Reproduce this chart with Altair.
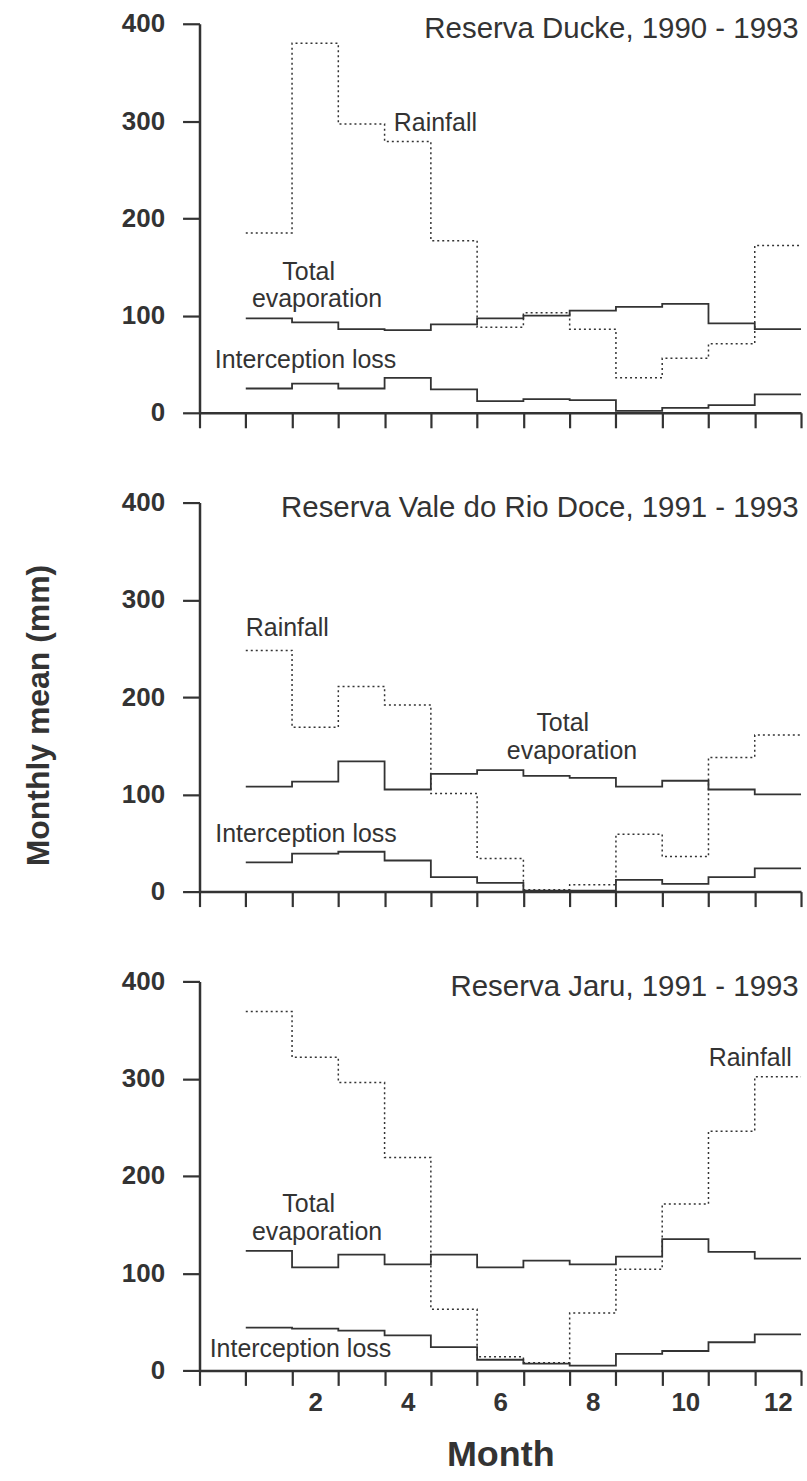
import altair as alt
import pandas as pd

months = list(range(1, 13))

# Reserva Ducke, 1990 - 1993 (monthly means, mm)
ducke_rain = [185, 380, 297, 279, 177, 88, 103, 86, 36, 56, 71, 172]
ducke_et = [97, 93, 86, 85, 91, 97, 100, 105, 109, 112, 92, 86]
ducke_il = [25, 30, 25, 36, 24, 12, 14, 13, 2, 5, 8, 19]

# Reserva Vale do Rio Doce, 1991 - 1993
vrd_rain = [248, 169, 211, 192, 101, 34, 2, 7, 59, 36, 138, 161]
vrd_et = [108, 113, 134, 105, 121, 125, 119, 117, 108, 114, 105, 100]
vrd_il = [30, 39, 41, 32, 15, 9, 1, 1, 12, 8, 15, 24]

# Reserva Jaru, 1991 - 1993
jaru_rain = [369, 322, 296, 219, 63, 14, 8, 59, 104, 171, 246, 302]
jaru_et = [123, 106, 119, 109, 119, 106, 113, 109, 117, 135, 122, 115]
jaru_il = [44, 43, 41, 36, 24, 11, 7, 5, 17, 20, 29, 37]

# in-plot labels: (text, month position, mm position, alignment)
ducke_notes = [
    ("Rainfall", 3.7, 290, "left"),
    ("Total", 1.86, 137, "center"),
    ("evaporation", 2.04, 109, "center"),
    ("Interception loss", -0.17, 46, "left"),
]
vrd_notes = [
    ("Rainfall", 0.5, 263, "left"),
    ("Total", 7.35, 165, "center"),
    ("evaporation", 7.55, 136, "center"),
    ("Interception loss", -0.16, 51, "left"),
]
jaru_notes = [
    ("Rainfall", 12.3, 313, "right"),
    ("Total", 1.86, 163, "center"),
    ("evaporation", 2.04, 134, "center"),
    ("Interception loss", -0.28, 14, "left"),
]

PANEL_W, PANEL_H = 603, 390
INK = "#333333"
FONT = "Liberation Sans"

tick_positions = [m - 0.5 for m in range(0, 14)]
label_positions = [2, 4, 6, 8, 10, 12]
x_values = sorted(tick_positions + label_positions)


def step_frame(values, series):
    # each month is drawn as a flat segment from m-0.5 to m+0.5
    xs = [m - 0.5 for m in months] + [12.5]
    ys = list(values) + [values[-1]]
    return pd.DataFrame({"month": xs, "mm": ys, "series": series})


def x_enc(bottom):
    axis_kw = dict(
        values=x_values,
        domainColor=INK,
        domainWidth=2.5,
        tickColor=INK,
        tickWidth=2.2,
        tickSize=15,
        tickOpacity={"condition": {"test": "datum.value % 1 === 0", "value": 0}, "value": 1},
        grid=False,
        labelFlush=False,
        labelOverlap=False,
        labelBound=False,
    )
    if bottom:
        axis_kw.update(
            labels=True,
            labelExpr="datum.value % 2 === 0 && datum.value > 0 ? '' + datum.value : ''",
            labelFont=FONT,
            labelFontSize=26,
            labelFontWeight="bold",
            labelColor=INK,
            labelPadding=4,
            title="Month",
            titleFont=FONT,
            titleFontSize=36,
            titleFontWeight="bold",
            titleColor=INK,
            titlePadding=22,
        )
    else:
        axis_kw.update(labels=False, title="")
    return alt.X(
        "month:Q",
        scale=alt.Scale(domain=[-0.5, 12.5], nice=False, zero=False),
        axis=alt.Axis(**axis_kw),
    )


def y_enc(with_title):
    axis_kw = dict(
        values=[0, 100, 200, 300, 400],
        domainColor=INK,
        domainWidth=2.5,
        tickColor=INK,
        tickWidth=2.2,
        tickSize=17,
        grid=False,
        labelFont=FONT,
        labelFontSize=26,
        labelFontWeight="bold",
        labelColor=INK,
        labelPadding=18,
    )
    if with_title:
        axis_kw.update(
            title="Monthly mean (mm)",
            titleFont=FONT,
            titleFontSize=32,
            titleFontWeight="bold",
            titleColor=INK,
            titlePadding=66,
            titleY=PANEL_H / 2 + 18,
        )
    else:
        axis_kw.update(title="")
    return alt.Y(
        "mm:Q",
        scale=alt.Scale(domain=[0, 400], nice=False, zero=True),
        axis=alt.Axis(**axis_kw),
    )


def panel(name, rain, et, il, notes, bottom=False, y_title=False):
    x = x_enc(bottom)
    y = y_enc(y_title)

    rain_line = alt.Chart(step_frame(rain, "Rainfall")).mark_line(
        interpolate="step-after", strokeDash=[2, 3], strokeWidth=1.5, color=INK
    ).encode(x=x, y=y)
    et_line = alt.Chart(step_frame(et, "Total evaporation")).mark_line(
        interpolate="step-after", strokeWidth=1.8, color=INK
    ).encode(x=x, y=y)
    il_line = alt.Chart(step_frame(il, "Interception loss")).mark_line(
        interpolate="step-after", strokeWidth=1.8, color=INK
    ).encode(x=x, y=y)

    layers = [rain_line, et_line, il_line]
    for align in ("left", "center", "right"):
        rows = [
            {"text": t, "month": mx, "mm": my}
            for (t, mx, my, a) in notes
            if a == align
        ]
        if not rows:
            continue
        layers.append(
            alt.Chart(pd.DataFrame(rows)).mark_text(
                align=align, baseline="alphabetic", font=FONT, fontSize=25, color=INK
            ).encode(x=x, y=y, text="text:N")
        )

    head = alt.Chart(pd.DataFrame([{"text": name, "month": 12.45, "mm": 385}])).mark_text(
        align="right", baseline="alphabetic", font=FONT, fontSize=29.5, color=INK
    ).encode(x=x, y=y, text="text:N")
    layers.append(head)

    return alt.layer(*layers).properties(width=PANEL_W, height=PANEL_H)


top = panel("Reserva Ducke, 1990 - 1993", ducke_rain, ducke_et, ducke_il, ducke_notes)
middle = panel(
    "Reserva Vale do Rio Doce, 1991 - 1993", vrd_rain, vrd_et, vrd_il, vrd_notes, y_title=True
)
bottom = panel("Reserva Jaru, 1991 - 1993", jaru_rain, jaru_et, jaru_il, jaru_notes, bottom=True)

chart = (
    alt.vconcat(top, middle, bottom, spacing=60)
    .properties(padding={"left": 22, "top": 9, "right": 2, "bottom": 2}, background="white")
    .configure_view(stroke=None)
)

chart.save("out.html", embed_options={"renderer": "svg", "actions": False})
